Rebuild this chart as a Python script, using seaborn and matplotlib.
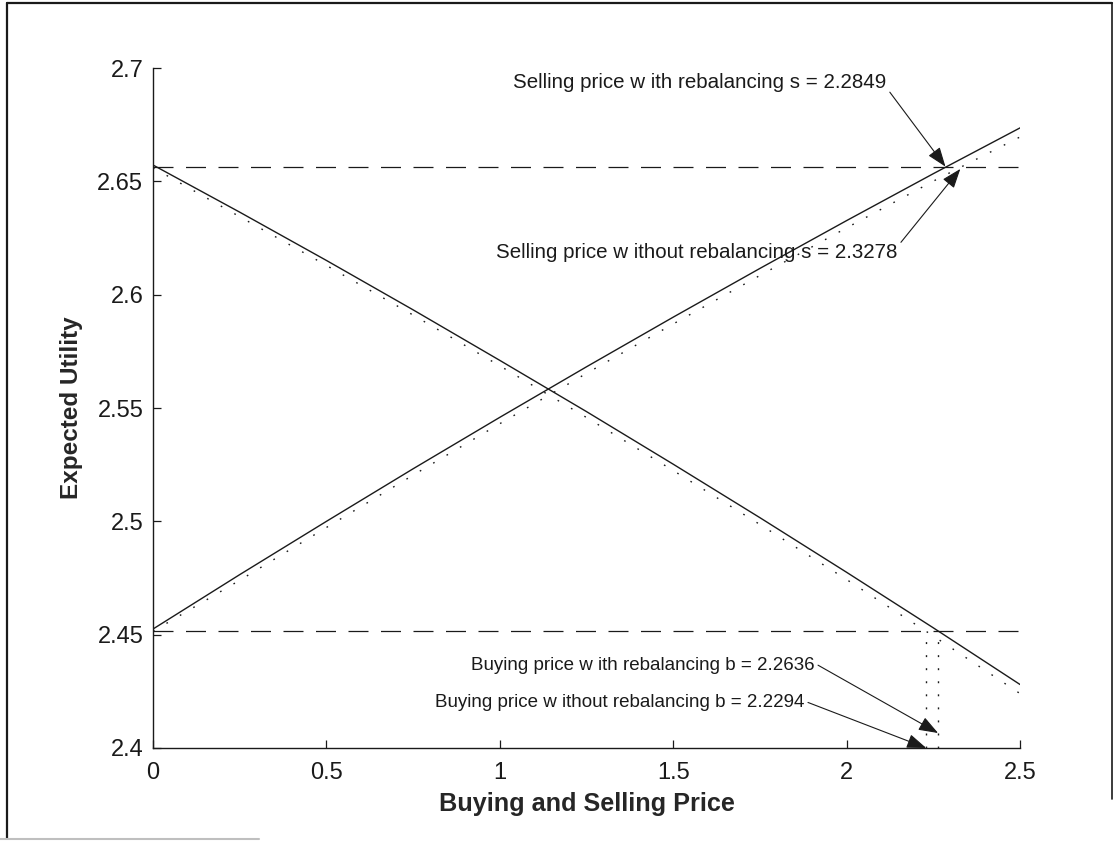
import pandas as pd
import matplotlib
matplotlib.use("Agg")
import matplotlib.pyplot as plt
from matplotlib.lines import Line2D
import seaborn as sns

# 价格网格与期望效用
price = [0.0, 0.25, 0.5, 0.75, 1.0, 1.25, 1.5, 1.75, 2.0, 2.25, 2.5]
sell_rebal = [2.4525, 2.4765, 2.5000, 2.5232, 2.5459, 2.5682, 2.5901, 2.6116, 2.6327, 2.6534, 2.6736]
sell_norebal = [2.4515, 2.4740, 2.4973, 2.5204, 2.5431, 2.5653, 2.5871, 2.6085, 2.6295, 2.6501, 2.6696]
buy_rebal = [2.6572, 2.6364, 2.6151, 2.5933, 2.5710, 2.5484, 2.5252, 2.5016, 2.4775, 2.4530, 2.4280]
buy_norebal = [2.6560, 2.6344, 2.6129, 2.5910, 2.5686, 2.5458, 2.5224, 2.4986, 2.4743, 2.4494, 2.4240]

# 无交易时的效用水平（虚线）
level_sell = 2.6565
level_buy = 2.4515

# 无差异价格
s_rebal = 2.2849
s_norebal = 2.3278
b_rebal = 2.2636
b_norebal = 2.2294

x_ticks = [0, 0.5, 1, 1.5, 2, 2.5]
x_ticklabels = ["0", "0.5", "1", "1.5", "2", "2.5"]
y_ticks = [2.4, 2.45, 2.5, 2.55, 2.6, 2.65, 2.7]
y_ticklabels = ["2.4", "2.45", "2.5", "2.55", "2.6", "2.65", "2.7"]


def build_frame():
    rows = []
    for name, vals in [("sell_rebal", sell_rebal), ("sell_norebal", sell_norebal),
                       ("buy_rebal", buy_rebal), ("buy_norebal", buy_norebal)]:
        for p, u in zip(price, vals):
            rows.append({"price": p, "utility": u, "curve": name})
    return pd.DataFrame(rows)


def plot_utility(data, output_image):
    sns.set_theme(style="ticks")
    plt.rcParams["font.family"] = ["Liberation Sans", "DejaVu Sans"]

    fig = plt.figure(figsize=(11.18, 8.41), dpi=100)
    ax = fig.add_axes([0.1369, 0.1106, 0.7755, 0.8085])

    dot = (1.2, 10)
    dash_map = {"sell_rebal": "", "sell_norebal": dot,
                "buy_rebal": "", "buy_norebal": dot}
    sns.lineplot(data=data, x="price", y="utility", style="curve", dashes=dash_map,
                 color="k", lw=1.0, legend=False, estimator=None, ax=ax)

    # 水平虚线与竖直点线
    ax.hlines([level_sell, level_buy], 0, 2.5, colors="k", lw=0.9,
              linestyles=[(0, (16, 10))])
    ax.vlines([b_norebal, b_rebal], 2.4, level_buy, colors="k", lw=1.0,
              linestyles=[(0, (1.4, 8))])

    # 标注
    arrow = dict(arrowstyle="-|>,head_length=0.6,head_width=0.22", color="k",
                 lw=0.8, mutation_scale=20, shrinkA=0, shrinkB=0)
    notes = [
        ("Selling price w ith rebalancing s = 2.2849", (s_rebal, level_sell),
         (2.115, 2.6938), (1.0, 0.2), 14.8),
        ("Selling price w ithout rebalancing s = 2.3278", (s_norebal, level_sell - 0.001),
         (2.147, 2.6188), (1.0, 0.8), 14.8),
        ("Buying price w ith rebalancing b = 2.2636", (b_rebal, 2.4066),
         (1.908, 2.4366), (1.0, 0.6), 13.5),
        ("Buying price w ithout rebalancing b = 2.2294", (b_norebal, 2.4),
         (1.879, 2.4199), (1.0, 0.6), 13.5),
    ]
    for text, tip, pos, rel, size in notes:
        a = dict(arrow)
        a["relpos"] = rel
        ax.annotate(text, xy=tip, xytext=pos, ha="right", va="center",
                    fontsize=size, color="k", arrowprops=a)

    ax.set_xlim(0, 2.5)
    ax.set_ylim(2.4, 2.7)
    ax.set_xticks(x_ticks)
    ax.set_xticklabels(x_ticklabels)
    ax.set_yticks(y_ticks)
    ax.set_yticklabels(y_ticklabels)
    ax.tick_params(direction="in", length=6, width=0.9, colors="k", labelsize=17)
    ax.tick_params(axis="x", pad=10)
    ax.tick_params(axis="y", pad=7)
    for side in ["top", "right"]:
        ax.spines[side].set_visible(False)
    for side in ["left", "bottom"]:
        ax.spines[side].set_color("k")
        ax.spines[side].set_linewidth(1.0)

    ax.set_xlabel("Buying and Selling Price", fontsize=18.2, fontweight="bold", labelpad=6)
    ax.set_ylabel("Expected Utility", fontsize=17.5, fontweight="bold", labelpad=10)

    # 扫描图的外框
    fig.add_artist(Line2D([0.0063, 0.0063], [0.003, 0.9964], color="k", lw=1.6))
    fig.add_artist(Line2D([0.0063, 0.995], [0.9964, 0.9964], color="k", lw=1.6))
    fig.add_artist(Line2D([0.995, 0.995], [0.05, 0.9964], color="k", lw=1.2))
    fig.add_artist(Line2D([0.0, 0.232], [0.002, 0.002], color="0.75", lw=1.5))

    fig.savefig(output_image, dpi=100)
    plt.close(fig)


def main():
    data = build_frame()
    plot_utility(data, "out.png")


if __name__ == "__main__":
    main()
